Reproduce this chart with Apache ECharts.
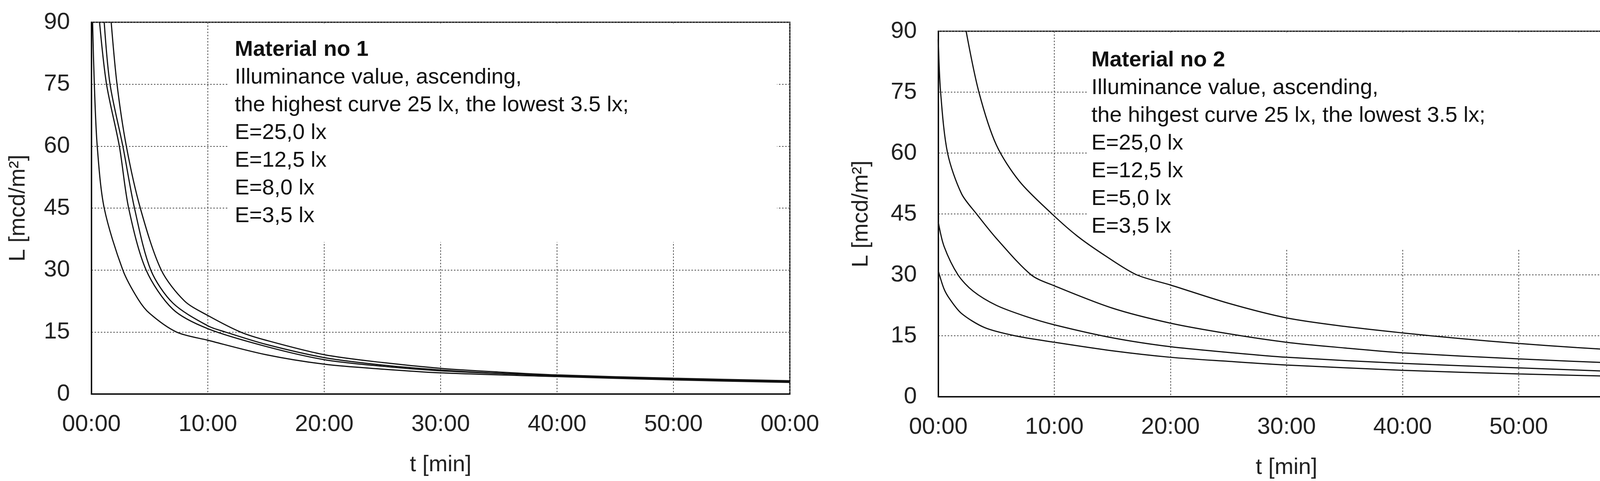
<!DOCTYPE html>
<html><head><meta charset="utf-8">
<script src="https://cdn.jsdelivr.net/npm/echarts@6/dist/echarts.min.js"></script>
<style>html,body{margin:0;padding:0;background:#fff}#c{width:4289px;height:1232px}</style>
</head><body><div id="c"></div>
<script>
const xTicks = [0,10,20,30,40,50,60];
const yTicks = [0,15,30,45,60,75,90];
const m1Names = ['E=25,0 lx','E=12,5 lx','E=8,0 lx','E=3,5 lx'];
const m2Names = ['E=25,0 lx','E=12,5 lx','E=5,0 lx','E=3,5 lx'];
const m1_25 = [[1.7,90],[2.2,75],[3.0,60],[4.2,45],[6.0,30],[8,22.5],[10,19],[12.8,15],[15,13],[20,9.5],[25,7.6],[30,6.2],[35,5.3],[40,4.6],[50,3.8],[60,3.2]];
const m1_12 = [[1.1,90],[1.6,75],[2.7,60],[3.7,45],[5.1,30],[7,22],[10,16.5],[11.5,15],[15,12],[20,8.8],[25,7],[30,5.8],[35,5],[40,4.5],[50,3.6],[60,3.0]];
const m1_8 = [[0.7,90],[1.3,75],[2.4,60],[3.2,45],[4.7,30],[7,20.5],[10,15.8],[15,11.5],[20,8.3],[25,6.7],[30,5.6],[40,4.4],[50,3.5],[60,3.0]];
const m1_3 = [[0.1,90],[0.25,75],[0.5,60],[1.1,45],[2.7,30],[4,23],[5,19.5],[7.3,15],[10,13],[15,9.5],[20,7.2],[25,6],[30,5.1],[40,4.2],[50,3.4],[60,2.8]];
const m2_25 = [[2.4,90],[3.5,75],[5,62],[7,53],[9.8,45],[12,39.5],[14.5,34.5],[17.1,30],[20,27.5],[25,23],[30,19.4],[35,17.3],[40,15.7],[45,14.3],[50,13.1],[55,12.1],[60,11.2]];
const m2_12 = [[0,88],[0.2,75],[0.8,60],[2,50],[3.3,45],[5,39],[8,30],[10,27.3],[15,21.8],[20,18.1],[25,15.5],[30,13.4],[35,12],[40,10.8],[50,9.3],[60,8.1]];
const m2_5 = [[0,43],[0.5,37],[1.7,30],[3,26],[5,22.5],[7.5,19.8],[10,17.7],[15,14.5],[20,12.3],[25,10.9],[30,9.7],[40,8.2],[50,7.1],[60,6.0]];
const m2_3 = [[0,31],[0.5,26.5],[1,24],[2,20.5],[4,17],[6.6,15],[10,13.4],[15,11.3],[20,9.7],[25,8.7],[30,7.8],[40,6.5],[50,5.6],[60,4.9]];
const texts1 = ['Material no 1','Illuminance value, ascending,','the highest curve 25 lx, the lowest 3.5 lx;'];
const texts2 = ['Material no 2','Illuminance value, ascending,','the hihgest curve 25 lx, the lowest 3.5 lx;'];

const FONT = "'Liberation Sans',Arial,sans-serif";
const chart = echarts.init(document.getElementById('c'));
const fmt = v => v===60 ? '00:00' : String(v).padStart(2,'0')+':00';
function xAxis(i){return {type:'value',gridIndex:i,min:0,max:60,interval:10,name:'t [min]',nameLocation:'middle',nameGap:153,
  nameTextStyle:{fontFamily:FONT,fontSize:58,color:'#222'},
  axisLine:{lineStyle:{color:'#000',width:3}},axisTick:{show:false},
  axisLabel:{formatter:fmt,fontFamily:FONT,fontSize:60,color:'#222',margin:48},
  splitLine:{show:true,lineStyle:{color:'#555',width:2,type:[4,4]}}};}
function yAxis(i,gap){return {type:'value',gridIndex:i,min:0,max:90,interval:15,name:'L [mcd/m²]',nameLocation:'middle',nameGap:gap,nameRotate:90,
  nameTextStyle:{fontFamily:FONT,fontSize:58,color:'#222'},
  axisLine:{lineStyle:{color:'#000',width:3}},axisTick:{show:false},
  axisLabel:{fontFamily:FONT,fontSize:60,color:'#222',margin:55},
  splitLine:{show:true,lineStyle:{color:'#555',width:2,type:[4,4]}}};}
function ser(name,data,i){return {type:'line',name,data,xAxisIndex:i,yAxisIndex:i,smooth:0.3,showSymbol:false,clip:true,
  lineStyle:{color:'#111',width:3},z:3};}
function textBlock(x,y,head,names){
  const lines=[...head.slice(1),...names];
  const els=[{type:'text',left:x,top:y,z:5,style:{text:head[0],font:"bold 56px "+FONT,fill:'#111'}}];
  lines.forEach((t,k)=>els.push({type:'text',left:x,top:y+71*(k+1),z:5,style:{text:t,font:"56px "+FONT,fill:'#111'}}));
  return els;
}
chart.setOption({
  animation:false,
  grid:[{left:234,top:57,width:1788,height:952,show:true,borderColor:'#000',borderWidth:3,backgroundColor:'transparent'},
        {left:2402,top:80,width:1783,height:944,show:true,borderColor:'#000',borderWidth:3,backgroundColor:'transparent'}],
  xAxis:[xAxis(0),xAxis(1)],
  yAxis:[yAxis(0,158),yAxis(1,168)],
  graphic:[
    {type:'rect',shape:{x:584,y:60,width:1405,height:560},style:{fill:'#fff'},z:1},
    {type:'rect',shape:{x:2784,y:83,width:1380,height:557},style:{fill:'#fff'},z:1},
    ...textBlock(601,100,texts1,m1Names),
    ...textBlock(2794,127,texts2,m2Names)
  ],
  series:[ser(m1Names[0],m1_25,0),ser(m1Names[1],m1_12,0),ser(m1Names[2],m1_8,0),ser(m1Names[3],m1_3,0),
          ser(m2Names[0],m2_25,1),ser(m2Names[1],m2_12,1),ser(m2Names[2],m2_5,1),ser(m2Names[3],m2_3,1)]
});
</script></body></html>
